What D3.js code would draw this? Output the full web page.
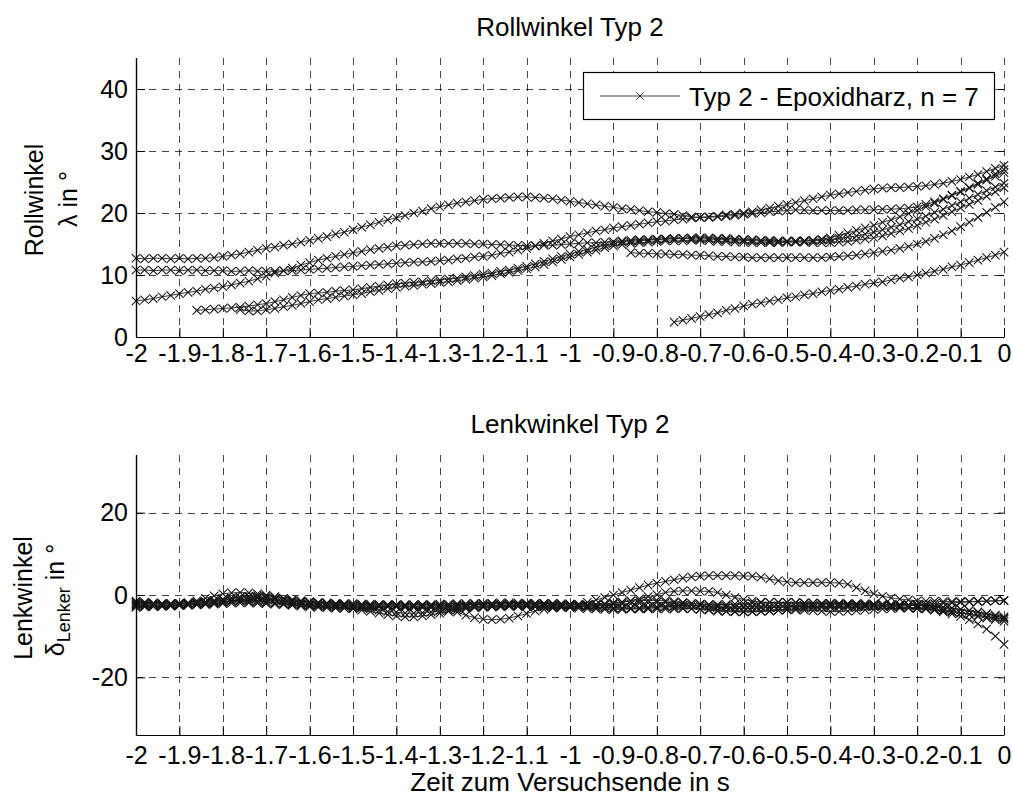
<!DOCTYPE html>
<html>
<head>
<meta charset="utf-8">
<script src="https://cdn.jsdelivr.net/npm/d3@7"></script>
<style>
  body { margin: 0; background: #fff; }
  svg text { font-family: "Liberation Sans", Arial, Helvetica, sans-serif; fill: #000; }
  .grid { stroke: #000; stroke-width: 0.9; stroke-dasharray: 7,6; opacity: 0.8; }
  .trace { fill: none; stroke: #222; stroke-width: 0.9; }
  .mark { fill: none; stroke: #141414; stroke-width: 1.05; }
</style>
</head>
<body>
<svg id="chart" width="1013" height="801"></svg>
<script>

/***** Data *****/
// Abtastung 0.02 s, jede Reihe beginnt bei ihrer Startzeit
var sampleStep = 0.02;
var xTicks = [-2, -1.9, -1.8, -1.7, -1.6, -1.5, -1.4, -1.3, -1.2, -1.1, -1, -0.9, -0.8, -0.7, -0.6, -0.5, -0.4, -0.3, -0.2, -0.1, 0];
var rollTicks = [0, 10, 20, 30, 40];
var lenkTicks = [-20, 0, 20];
var legendLabel = "Typ 2 - Epoxidharz, n = 7";

// Rollwinkel in Grad
var rollStart = [-2, -2, -2, -1.86, -1.76, -0.86, -0.76];
var rollA = [12.7,12.6,12.7,12.7,12.6,12.7,12.6,12.7,12.7,12.8,13.0,
  13.2,13.4,13.7,14.0,14.3, 14.5,14.8,15.0,15.3,15.6, 15.9,16.2,16.6,16.9,17.3,
  17.7,18.1,18.5,18.9,19.2, 19.6,20.0,20.3,20.7,21.0, 21.3,21.6,21.8,22.0,22.2,
  22.3,22.4,22.5,22.6,22.6, 22.5,22.4,22.3,22.1,21.9, 21.7,21.5,21.3,21.1,20.9,
  20.7,20.6,20.4,20.2,20.1, 19.9,19.8,19.6,19.4,19.3, 19.3,19.4,19.5,19.6,19.8,
  19.9,20.0,20.2,20.3,20.4, 20.5,20.5,20.4,20.4,20.4, 20.4,20.4,20.5,20.5,20.5,
  20.6,20.6,20.7,20.8,21.0, 21.4,21.8,22.3,22.9,23.5, 24.1,24.8,25.5,26.3,27.0];
var rollB = [10.8,10.8,10.7,10.8,10.8,10.7,10.8,10.8,10.7,10.7,10.7,
  10.6,10.6,10.7,10.6,10.6, 10.6,10.7,10.7,10.8,10.9, 11.0,11.1,11.2,11.3,11.4,
  11.5,11.6,11.7,11.8,11.9, 12.0,12.1,12.1,12.2,12.3, 12.4,12.6,12.7,12.9,13.0,
  13.2,13.5,13.7,14.0,14.3, 14.7,15.1,15.5,15.8,16.2, 16.5,16.8,17.1,17.3,17.6,
  17.8,18.0,18.2,18.4,18.6, 18.7,18.9,19.0,19.2,19.3, 19.4,19.5,19.7,19.8,20.0,
  20.2,20.5,20.8,21.1,21.4, 21.7,22.0,22.3,22.6,22.9, 23.1,23.3,23.5,23.7,23.9,
  24.0,24.1,24.1,24.2,24.3, 24.4,24.6,24.8,25.1,25.4, 25.8,26.2,26.7,27.2,27.7];
var rollC = [5.8,6.0,6.2,6.5,6.7,7.0,7.2,7.4,7.7,7.9,8.1,
  8.4,8.7,9.0,9.4,9.8, 10.3,10.7,11.1,11.6,12.0, 12.4,12.7,13.0,13.3,13.6,
  13.8,14.1,14.3,14.5,14.7, 14.8,14.9,15.0,15.1,15.1, 15.1,15.1,15.1,15.0,15.0,
  14.9,14.9,14.8,14.8,14.7, 14.7,14.8,14.8,14.9,15.0, 15.1,15.2,15.2,15.3,15.4,
  15.5,15.6,15.7,15.7,15.8, 15.8,15.8,15.9,15.8,15.8, 15.8,15.7,15.7,15.6,15.6,
  15.5,15.5,15.4,15.4,15.4, 15.4,15.5,15.6,15.8,16.0, 16.4,16.8,17.2,17.6,18.0,
  18.5,18.9,19.4,19.9,20.4, 21.0,21.6,22.2,22.8,23.4, 24.0,24.6,25.3,25.9,26.5];
var rollD = [4.3,4.4,4.5,4.6,
  4.7,4.8,5.0,5.2,5.4, 5.7,6.0,6.4,6.7,7.0, 7.1,7.2,7.4,7.5,7.6,
  7.8,8.0,8.2,8.4,8.6, 8.7,8.8,8.9,9.1,9.2, 9.4,9.5,9.7,9.9,10.1,
  10.3,10.6,10.8,11.1,11.4, 11.8,12.2,12.6,13.0,13.4, 13.8,14.1,14.5,14.8,15.1,
  15.3,15.4,15.5,15.6,15.7, 15.8,15.9,15.9,16.0,16.0, 16.0,15.9,15.9,15.8,15.7,
  15.7,15.6,15.6,15.5,15.5, 15.5,15.5,15.5,15.6,15.7, 15.9,16.1,16.3,16.6,16.9,
  17.3,17.7,18.1,18.6,19.0, 19.5,20.1,20.6,21.2,21.8, 22.4,23.0,23.6,24.2,24.8];
var rollE = [4.4,4.2,4.2,4.4,
  4.6,4.9,5.1,5.4,5.7, 6.0,6.2,6.4,6.6,6.8, 7.0,7.3,7.5,7.8,8.0,
  8.2,8.3,8.5,8.6,8.8, 8.9,9.1,9.3,9.5,9.7, 9.9,10.2,10.4,10.7,11.0,
  11.3,11.7,12.1,12.5,12.9, 13.3,13.7,14.0,14.4,14.7, 14.9,15.1,15.2,15.3,15.4,
  15.5,15.5,15.5,15.6,15.6, 15.5,15.4,15.4,15.3,15.3, 15.2,15.2,15.2,15.2,15.3,
  15.3,15.3,15.2,15.2,15.2, 15.3,15.4,15.6,15.8,16.0, 16.3,16.7,17.1,17.5,18.0,
  18.5,19.0,19.6,20.2,20.8, 21.4,22.0,22.7,23.4,24.1];
var rollF = [13.6,13.5,13.5,13.4,
  13.4,13.3,13.3,13.2,13.2, 13.1,13.0,13.0,12.9,12.9, 12.8,12.8,12.8,12.8,12.8,
  12.8,12.8,12.8,12.8,12.9, 13.0,13.1,13.2,13.4,13.6, 13.8,14.0,14.3,14.6,15.0,
  15.4,15.9,16.5,17.1,17.8, 18.5,19.3,20.1,20.9,21.8];
var rollG = [2.4,2.7,3.0,3.3,
  3.6,3.9,4.3,4.6,5.0, 5.3,5.5,5.8,6.0,6.3, 6.5,6.8,7.0,7.3,7.5,
  7.7,8.0,8.2,8.5,8.7, 8.9,9.2,9.5,9.7,10.0, 10.3,10.6,10.9,11.3,11.6,
  12.0,12.4,12.8,13.2,13.7];
var rollSeries = [rollA, rollB, rollC, rollD, rollE, rollF, rollG];

// Lenkwinkel in Grad
var lenkStart = [-2, -2, -2, -2, -2, -2, -2];
var lenk1 = [-1.8,-2.0,-2.1,-2.2,-2.2,-2.1,-2.0,-1.9,-1.8,-1.7,-1.6,
  -1.5,-1.5,-1.6,-1.7,-1.8, -1.9,-2.0,-2.1,-2.2,-2.3, -2.4,-2.5,-2.5,-2.6,-2.6,
  -2.7,-2.7,-2.8,-2.8,-2.8, -2.8,-2.8,-2.7,-2.7,-2.6, -2.5,-2.4,-2.4,-2.3,-2.3,
  -2.2,-2.2,-2.2,-2.3,-2.3, -2.4,-2.4,-2.5,-2.5,-2.4, -2.2,-1.8,-1.2,-0.6,0.0,
  0.6,1.2,1.8,2.4,2.9, 3.3,3.7,4.1,4.4,4.6, 4.7,4.7,4.7,4.7,4.6,
  4.6,4.3,3.9,3.5,3.2, 3.0,3.0,3.0,3.0,3.0, 2.9,2.6,1.8,1.0,0.3,
  -0.3,-0.7,-1.0,-1.2,-1.4, -1.5,-1.5,-1.6,-1.6,-1.6, -1.6,-1.5,-1.5,-1.4,-1.4];
var lenk2 = [-2.5,-2.6,-2.6,-2.5,-2.4,-2.2,-1.9,-1.4,-0.8,-0.2,0.3,
  0.5,0.6,0.5,0.3,0.0, -0.4,-0.8,-1.1,-1.4,-1.6, -1.8,-1.9,-2.0,-2.1,-2.1,
  -2.2,-2.2,-2.3,-2.3,-2.4, -2.4,-2.4,-2.3,-2.3,-2.2, -2.2,-2.1,-2.1,-2.0,-2.0,
  -2.0,-1.9,-1.9,-1.9,-2.0, -2.0,-2.1,-2.2,-2.3,-2.4, -2.5,-2.5,-2.4,-2.3,-2.1,
  -1.8,-1.4,-0.9,-0.4,0.1, 0.6,0.9,1.0,1.0,0.9, 0.9,0.6,0.0,-0.6,-1.1,
  -1.5,-1.7,-1.8,-1.8,-1.8, -1.8,-1.9,-1.9,-2.0,-2.0, -2.0,-2.1,-2.1,-2.1,-2.2,
  -2.2,-2.3,-2.3,-2.4,-2.5, -2.6,-2.8,-3.0,-3.2,-3.5, -3.8,-4.2,-4.6,-5.1,-5.6];
var lenk3 = [-3.0,-2.9,-2.8,-2.7,-2.6,-2.5,-2.4,-2.3,-2.2,-2.0,-1.8,
  -1.5,-1.2,-0.9,-0.8,-0.9, -1.2,-1.5,-1.8,-2.1,-2.4, -2.6,-2.8,-3.0,-3.2,-3.4,
  -3.7,-4.0,-4.4,-4.8,-5.1, -5.3,-5.3,-5.1,-4.8,-4.4, -4.0,-3.6,-3.3,-3.1,-3.0,
  -2.9,-2.9,-2.8,-2.8,-2.8, -2.9,-2.9,-3.0,-3.0,-3.1, -3.2,-3.3,-3.4,-3.5,-3.5,
  -3.5,-3.4,-3.3,-3.2,-3.0, -2.8,-2.6,-2.5,-2.5,-2.6, -2.8,-3.0,-3.1,-3.2,-3.2,
  -3.2,-3.1,-3.1,-3.0,-3.0, -2.9,-2.9,-2.8,-2.8,-2.7, -2.7,-2.6,-2.6,-2.6,-2.6,
  -2.7,-2.8,-2.9,-3.0,-3.2, -3.4,-3.7,-4.1,-4.6,-5.2, -6.0,-7.0,-8.3,-10.0,-12.0];
var lenk4 = [-2.2,-2.3,-2.4,-2.5,-2.5,-2.4,-2.3,-2.2,-2.0,-1.8,-1.6,
  -1.4,-1.3,-1.3,-1.4,-1.6, -1.9,-2.2,-2.5,-2.7,-2.9, -3.0,-3.1,-3.2,-3.2,-3.2,
  -3.1,-3.0,-2.9,-2.9,-2.9, -3.0,-3.0,-3.1,-3.1,-3.2, -3.6,-4.2,-4.9,-5.5,-5.9,
  -6.0,-5.9,-5.6,-5.1,-4.5, -3.9,-3.5,-3.2,-3.0,-2.9, -2.8,-2.8,-2.9,-3.0,-3.1,
  -3.2,-3.3,-3.4,-3.4,-3.4, -3.4,-3.4,-3.3,-3.3,-3.4, -3.5,-3.7,-3.9,-4.0,-4.0,
  -4.0,-3.9,-3.8,-3.7,-3.6, -3.6,-3.7,-3.8,-3.9,-4.0, -4.0,-3.9,-3.8,-3.6,-3.5,
  -3.4,-3.3,-3.2,-3.2,-3.3, -3.4,-3.6,-3.8,-4.1,-4.4, -4.7,-5.0,-5.3,-5.6,-5.9];
var lenk5 = [-1.5,-1.7,-1.9,-2.0,-2.1,-2.1,-2.1,-2.0,-1.8,-1.5,-1.2,
  -0.9,-0.6,-0.3,-0.2,-0.3, -0.6,-0.9,-1.2,-1.5,-1.7, -1.9,-2.1,-2.3,-2.5,-2.8,
  -3.1,-3.4,-3.7,-4.0,-4.2, -4.4,-4.4,-4.3,-4.1,-3.8, -3.5,-3.2,-3.0,-2.8,-2.7,
  -2.6,-2.6,-2.6,-2.7,-2.7, -2.8,-2.8,-2.9,-2.9,-2.8, -2.7,-2.6,-2.5,-2.4,-2.3,
  -2.2,-2.1,-2.0,-1.9,-1.8, -1.8,-1.9,-2.0,-2.1,-2.2, -2.3,-2.3,-2.3,-2.2,-2.1,
  -2.0,-1.9,-1.8,-1.8,-1.8, -1.9,-2.0,-2.0,-2.1,-2.1, -2.2,-2.2,-2.3,-2.3,-2.3,
  -2.4,-2.4,-2.5,-2.5,-2.6, -2.7,-2.8,-3.0,-3.2,-3.5, -3.8,-4.1,-4.5,-4.9,-5.3];
var lenk6 = [-2.7,-2.8,-2.8,-2.8,-2.7,-2.6,-2.5,-2.4,-2.3,-2.2,-2.1,
  -2.0,-1.9,-1.9,-2.0,-2.1, -2.2,-2.3,-2.4,-2.5,-2.6, -2.6,-2.7,-2.7,-2.7,-2.7,
  -2.6,-2.6,-2.5,-2.5,-2.4, -2.4,-2.4,-2.4,-2.5,-2.5, -2.6,-2.6,-2.7,-2.7,-2.7,
  -2.7,-2.6,-2.6,-2.5,-2.5, -2.5,-2.5,-2.6,-2.6,-2.7, -2.8,-2.9,-3.0,-3.1,-3.2,
  -3.2,-3.2,-3.1,-3.0,-2.9, -2.9,-3.0,-3.1,-3.3,-3.5, -3.7,-3.9,-4.0,-4.1,-4.1,
  -4.1,-4.0,-3.9,-3.7,-3.5, -3.3,-3.2,-3.1,-3.0,-3.0, -3.0,-3.0,-3.0,-2.9,-2.8,
  -2.7,-2.6,-2.5,-2.4,-2.3, -2.2,-2.1,-2.0,-1.9,-1.8, -1.7,-1.6,-1.5,-1.4,-1.3];
var lenk7 = [-2.0,-2.1,-2.2,-2.2,-2.1,-2.0,-1.9,-1.8,-1.6,-1.3,-1.0,
  -0.7,-0.5,-0.4,-0.5,-0.7, -1.0,-1.3,-1.5,-1.7,-1.9, -2.0,-2.1,-2.2,-2.2,-2.3,
  -2.3,-2.4,-2.4,-2.5,-2.5, -2.6,-2.7,-2.8,-2.9,-3.0, -3.0,-3.0,-2.9,-2.8,-2.7,
  -2.6,-2.5,-2.4,-2.3,-2.2, -2.1,-2.0,-2.0,-2.1,-2.2, -2.3,-2.4,-2.3,-2.1,-1.9,
  -1.7,-1.5,-1.4,-1.3,-1.3, -1.4,-1.6,-1.8,-2.0,-2.2, -2.4,-2.6,-2.7,-2.8,-2.8,
  -2.8,-2.8,-2.7,-2.7,-2.6, -2.6,-2.5,-2.5,-2.4,-2.4, -2.4,-2.4,-2.5,-2.5,-2.6,
  -2.7,-2.8,-2.9,-3.0,-3.1, -3.2,-3.4,-3.6,-3.9,-4.3, -4.7,-5.2,-5.6,-6.0,-6.4];
var lenkSeries = [lenk1, lenk2, lenk3, lenk4, lenk5, lenk6, lenk7];


/***** Layout *****/
var svg = d3.select("#chart");
var plotLeft = 136, plotRight = 1004;
var fontFamily = '"Liberation Sans", Arial, Helvetica, sans-serif';

var x = d3.scaleLinear().domain([-2, 0]).range([plotLeft, plotRight]);

var crossPath = "M-4.2,-4.2L4.2,4.2M-4.2,4.2L4.2,-4.2";

function tickText(d) { return String(+d.toFixed(1)); }


/***** Draw one panel (grid, traces, axes, labels) *****/
function drawPanel(cfg) {
    var y = d3.scaleLinear().domain(cfg.yDomain).range([cfg.bottom, cfg.top]);
    var g = svg.append("g");

    // Gitter
    g.append("g").selectAll("line")
        .data(xTicks.slice(1))
        .join("line")
        .attr("class", "grid")
        .attr("x1", function(d) { return Math.round(x(d)) + 0.5; })
        .attr("x2", function(d) { return Math.round(x(d)) + 0.5; })
        .attr("y1", cfg.top)
        .attr("y2", cfg.bottom);

    g.append("g").selectAll("line")
        .data(cfg.yTicks)
        .join("line")
        .attr("class", "grid")
        .attr("x1", plotLeft)
        .attr("x2", plotRight)
        .attr("y1", function(d) { return Math.round(y(d)) + 0.5; })
        .attr("y2", function(d) { return Math.round(y(d)) + 0.5; });

    // Messreihen
    var line = d3.line()
        .x(function(d) { return x(d[0]); })
        .y(function(d) { return y(d[1]); });

    cfg.series.forEach(function(values, k) {
        var pts = values.map(function(v, i) { return [cfg.starts[k] + i * sampleStep, v]; });

        g.append("path")
            .datum(pts)
            .attr("class", "trace")
            .attr("d", line);

        g.append("g").selectAll("path")
            .data(pts)
            .join("path")
            .attr("class", "mark")
            .attr("d", crossPath)
            .attr("transform", function(d) { return "translate(" + x(d[0]) + "," + y(d[1]) + ")"; });
    });

    // Achsen
    var xAxis = d3.axisBottom(x)
        .tickValues(xTicks)
        .tickSizeInner(-9)
        .tickSizeOuter(0)
        .tickPadding(cfg.xPad)
        .tickFormat(tickText);

    var yAxis = d3.axisLeft(y)
        .tickValues(cfg.yTicks)
        .tickSizeInner(-9)
        .tickSizeOuter(0)
        .tickPadding(8)
        .tickFormat(tickText);

    var yRight = d3.axisRight(y)
        .tickValues(cfg.yTicks)
        .tickSizeInner(-6)
        .tickSizeOuter(0)
        .tickFormat("");

    g.append("g")
        .attr("transform", "translate(0," + cfg.bottom + ")")
        .call(xAxis);

    g.append("g")
        .attr("transform", "translate(" + plotLeft + ",0)")
        .call(yAxis);

    var gr = g.append("g")
        .attr("transform", "translate(" + plotRight + ",0)")
        .call(yRight);
    gr.select(".domain").remove();

    // y-Achse bis zur oberen Kante
    g.append("line")
        .attr("x1", plotLeft + 0.5).attr("x2", plotLeft + 0.5)
        .attr("y1", cfg.top).attr("y2", cfg.bottom)
        .attr("stroke", "#000").attr("stroke-width", 1.2);

    g.selectAll(".domain").attr("stroke", "#000").attr("stroke-width", 1.2);
    g.selectAll(".tick line").attr("stroke", "#000");
    g.selectAll(".tick text")
        .attr("font-size", 25)
        .attr("font-family", fontFamily);

    // Titel
    g.append("text")
        .attr("x", (plotLeft + plotRight) / 2)
        .attr("y", cfg.titleY)
        .attr("text-anchor", "middle")
        .attr("font-size", 26)
        .text(cfg.title);

    return y;
}


/***** Rollwinkel *****/
var yRoll = drawPanel({
    top: 58, bottom: 337,
    yDomain: [0, 45],
    yTicks: rollTicks,
    series: rollSeries,
    starts: rollStart,
    xPad: 7,
    title: "Rollwinkel Typ 2",
    titleY: 36
});

svg.append("text")
    .attr("transform", "translate(43,200) rotate(-90)")
    .attr("font-size", 25)
    .attr("text-anchor", "middle")
    .text("Rollwinkel");

svg.append("text")
    .attr("transform", "translate(77,199) rotate(-90)")
    .attr("font-size", 25)
    .attr("text-anchor", "middle")
    .text("\u03bb in \u00b0");


/***** Legende *****/
var legend = svg.append("g");
legend.append("rect")
    .attr("x", 583.5).attr("y", 72.5)
    .attr("width", 411).attr("height", 47)
    .attr("fill", "#fff")
    .attr("stroke", "#000")
    .attr("stroke-width", 1.2);
legend.append("line")
    .attr("x1", 600).attr("x2", 680)
    .attr("y1", 96).attr("y2", 96)
    .attr("stroke", "#444").attr("stroke-width", 1);
legend.append("path")
    .attr("d", "M-3.6,-3.6L3.6,3.6M-3.6,3.6L3.6,-3.6")
    .attr("fill", "none").attr("stroke", "#222").attr("stroke-width", 0.9)
    .attr("transform", "translate(640,96)");
legend.append("text")
    .attr("x", 689).attr("y", 106)
    .attr("font-size", 26)
    .text(legendLabel);


/***** Lenkwinkel *****/
var yLenk = drawPanel({
    top: 455, bottom: 735,
    yDomain: [-34, 34],
    yTicks: lenkTicks,
    series: lenkSeries,
    starts: lenkStart,
    xPad: 11,
    title: "Lenkwinkel Typ 2",
    titleY: 433
});

svg.append("text")
    .attr("transform", "translate(32,598) rotate(-90)")
    .attr("font-size", 25)
    .attr("text-anchor", "middle")
    .text("Lenkwinkel");

var deltaLabel = svg.append("text")
    .attr("transform", "translate(64,600) rotate(-90)")
    .attr("font-size", 25)
    .attr("text-anchor", "middle");
deltaLabel.append("tspan").text("\u03b4");
deltaLabel.append("tspan").attr("font-size", 18).attr("dy", 6).text("Lenker");
deltaLabel.append("tspan").attr("dy", -6).text(" in \u00b0");

svg.append("text")
    .attr("x", (plotLeft + plotRight) / 2)
    .attr("y", 791)
    .attr("text-anchor", "middle")
    .attr("font-size", 26)
    .text("Zeit zum Versuchsende in s");

</script>
</body>
</html>
